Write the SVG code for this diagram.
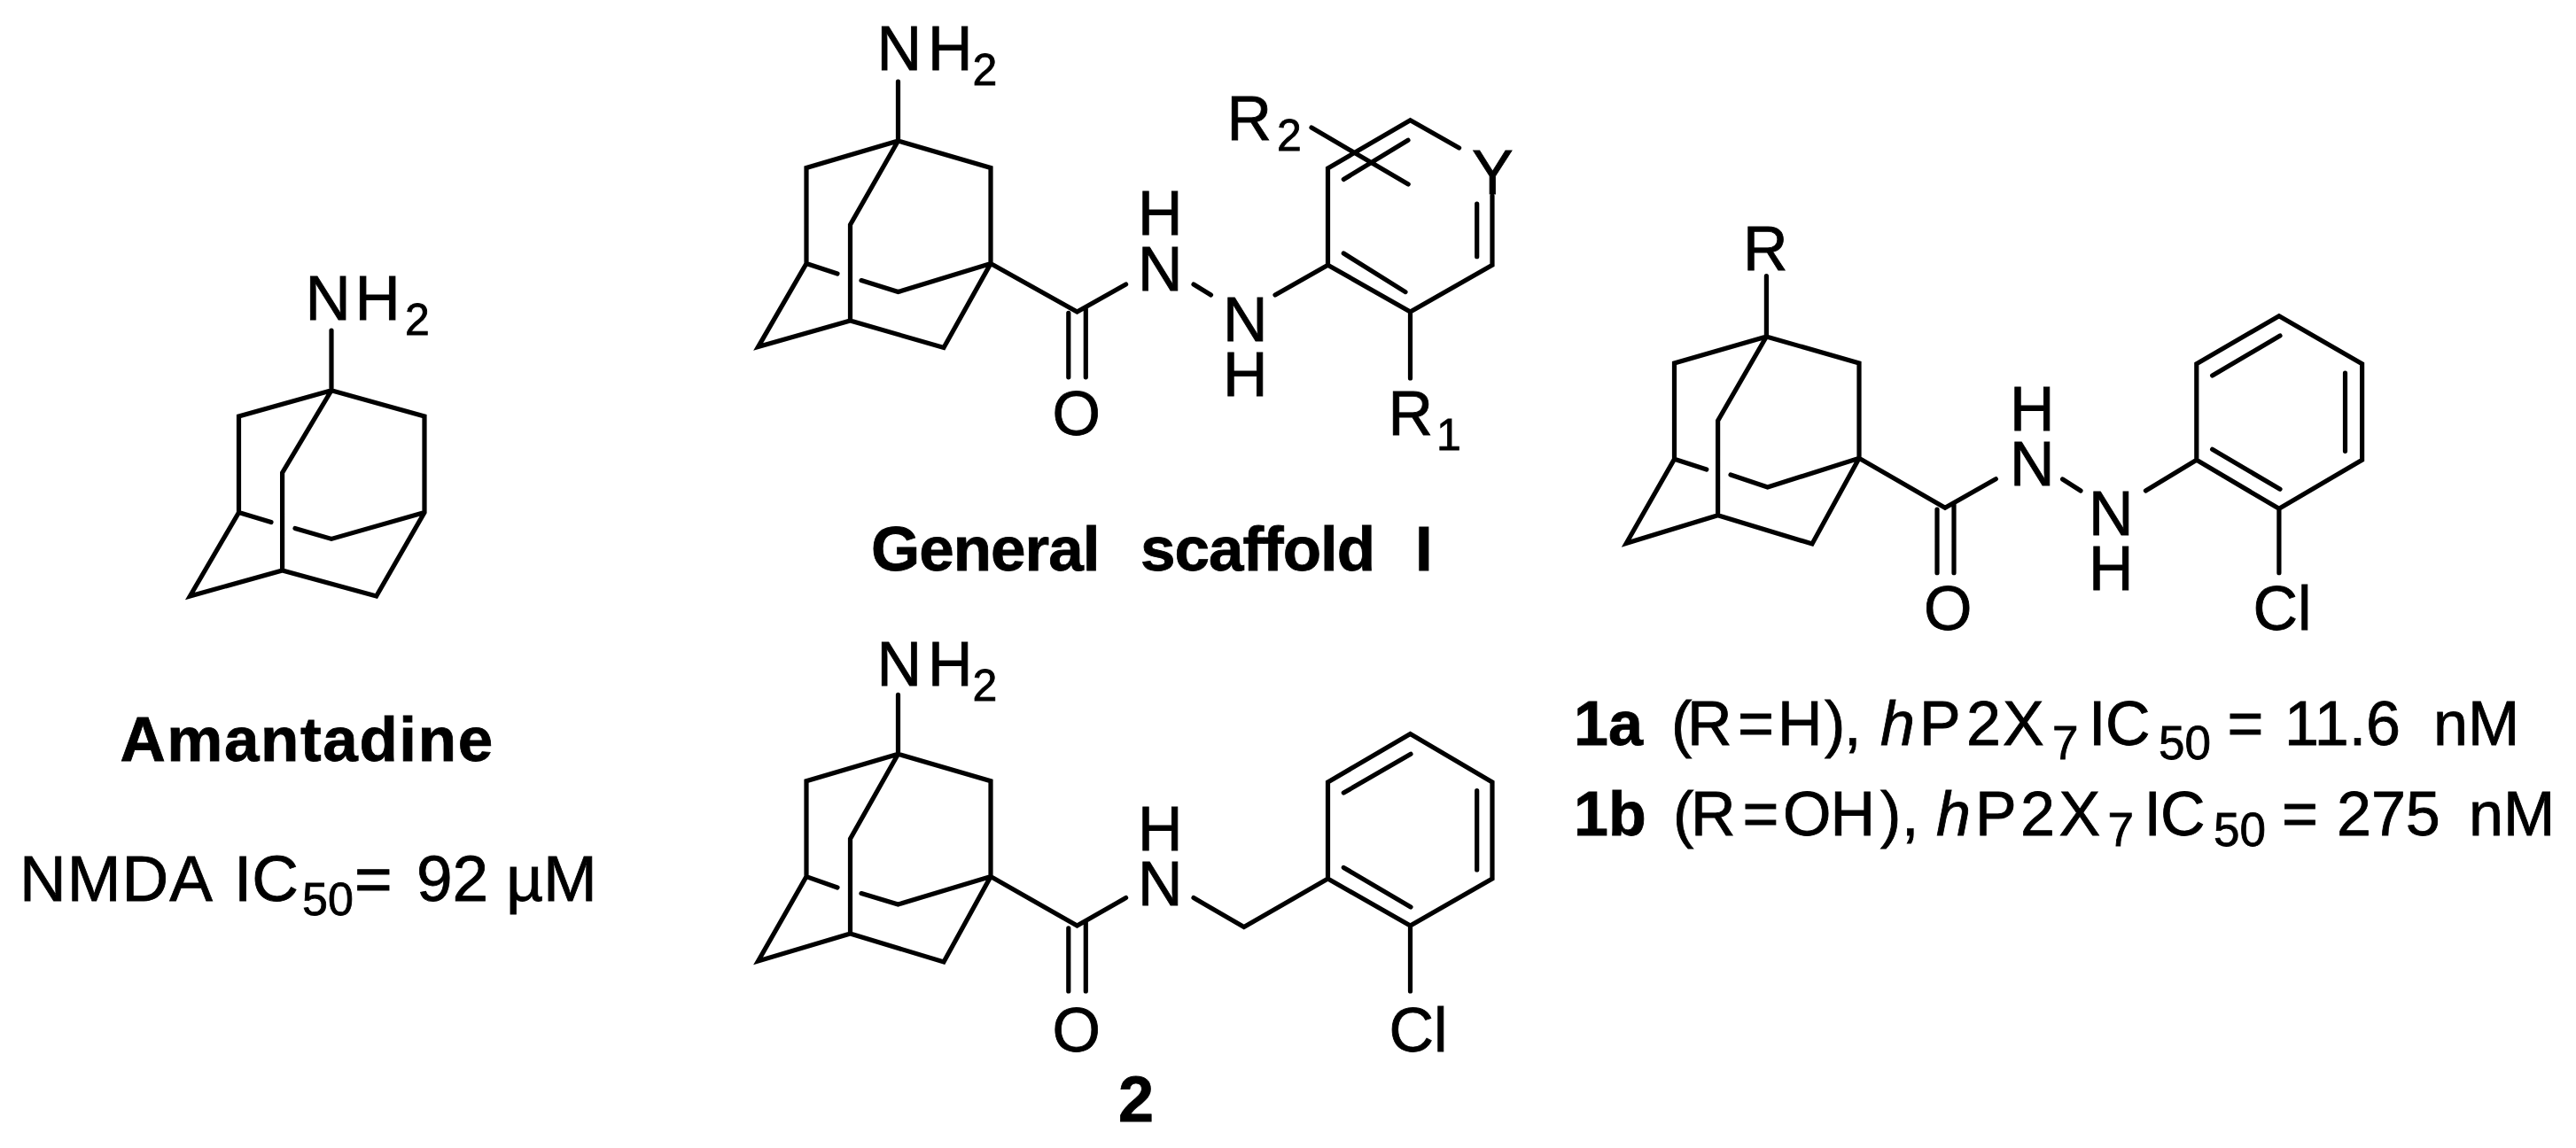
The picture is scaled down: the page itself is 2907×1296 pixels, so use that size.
<svg xmlns="http://www.w3.org/2000/svg" width="2907" height="1296" viewBox="0 0 2907 1296">
<style>
text{font-family:"Liberation Sans",Arial,sans-serif;font-size:70px;fill:#000;stroke:#000;stroke-width:.8px}
.b{font-weight:bold}
.s{font-size:50px}
.a{font-size:53px}
.i{font-style:italic}
#connectors path{fill:none;stroke:#000;stroke-width:5.2;stroke-linejoin:miter;stroke-linecap:round}
</style>
<rect width="2907" height="1296" fill="#fff"/>
<g id="connectors">
<path id="bonds-amantadine" d="M374 373V440.7L269.5 470V578.5L214.4 673L318.6 644L424.7 673L479 578.5V470L374 440.7L318.6 533.7V644M269.5 578.5L306 589.5M333 596.4L374 608.4L479 578.5"/>
<path id="bonds-scaffold" d="M1013.5 92V159L910 189.5V297.5L855.6 391.6L959.5 362L1065 392.5L1118 297.5V189.5L1013.5 159L959.5 253.7V362M910 297.5L945 309M972 316.6L1013.5 329.6L1118 297.5L1215.5 352L1270.6 321M1205.8 353.4V425.8M1225.3 347V425.8M1347 321L1366.5 333M1439 333L1498.5 299.2V190L1591.5 135.7L1646.6 167M1684 221V299.2L1591.5 352L1498.5 299.2M1516.3 286L1586 329.6M1666.7 230V289.7M1516.3 202.5L1589 158.3M1480 144L1589.2 208M1591.5 352V427"/>
<path id="bonds-compound2" d="M1013.5 784.4V851.3L910 881.7V989.6L855.6 1085L959.5 1054L1065 1086L1118 989.6V881.7L1013.5 851.3L959.5 947V1054M910 989.6L945 1002M972 1008.6L1013.5 1021L1118 989.6L1215.5 1045L1270.6 1013.6M1205.8 1047.8V1118.9M1225.3 1041.3V1118.9M1347 1013.6L1403.8 1046.6L1498.5 992V883L1591.5 828.5L1684 883V992L1591.5 1045L1498.5 992M1516.3 895L1592 851.3M1666.7 892.7V982M1516.3 979.4L1592 1024M1591.5 1045V1118.9"/>
<path id="bonds-compound1" d="M1993.4 311.7V380L1889.5 410V518.3L1835.3 613.3L1938.6 581.7L2045 614L2098 517.3V410L1993.4 380L1938.6 475V581.7M1889.5 518.3L1925.8 530M1953 536L1994.7 550L2098 517.3L2195 573.3L2252.3 540.7M2186 575V646.7M2205 568V646.7M2327.6 541L2348 554M2421.4 554L2478.8 519.3V410.7L2571.9 356.7L2665.6 410.7V519.3L2571.9 574.3L2478.8 519.3M2496.6 424L2573 379M2646.5 421V509.3M2496.6 507.3L2573 552.3M2571.9 574.3V646.7"/>
</g>
<g id="amantadine">
<text style="font-size:71px"><tspan x="344.6" y="361">N</tspan><tspan x="400.5" y="361">H</tspan><tspan class="s" x="457" y="378">2</tspan></text>
<text class="b" x="135.4" y="858.6" style="font-size:71px;letter-spacing:1.6px">Amantadine</text>
<text style="font-size:73px"><tspan x="22" y="1017" style="letter-spacing:1px">NMDA</tspan><tspan x="264" y="1017">IC</tspan><tspan class="s" x="341" y="1032.7" style="font-size:52px">50</tspan><tspan x="400" y="1017">=</tspan><tspan x="470" y="1017">92</tspan><tspan x="571" y="1017">µM</tspan></text>
</g>
<g id="general-scaffold">
<text><tspan x="989.5" y="79.4">N</tspan><tspan x="1047" y="79.4">H</tspan><tspan class="s" x="1097.5" y="96.3">2</tspan></text>
<text x="1284" y="264.5">H</text>
<text x="1284" y="328">N</text>
<text x="1380" y="384.6">N</text>
<text x="1380" y="446.7">H</text>
<text x="1187.5" y="491">O</text>
<text><tspan x="1384.5" y="158">R</tspan><tspan class="s" x="1441" y="170">2</tspan></text>
<text x="1661" y="219">Y</text>
<text><tspan x="1566.5" y="491">R</tspan><tspan class="s" x="1621" y="508">1</tspan></text>
<text class="b" style="font-size:71px"><tspan x="983" y="644" style="letter-spacing:-1px">General</tspan><tspan x="1287" y="644" style="letter-spacing:-1px">scaffold</tspan><tspan x="1597" y="644">I</tspan></text>
</g>
<g id="compound-2">
<text><tspan x="989.5" y="774">N</tspan><tspan x="1047" y="774">H</tspan><tspan class="s" x="1097.5" y="790.5">2</tspan></text>
<text x="1284" y="960.4">H</text>
<text x="1284" y="1022.3">N</text>
<text x="1187.5" y="1186.5">O</text>
<text x="1567.5" y="1186.5">Cl</text>
<text class="b" x="1262" y="1265.6" style="font-size:72px">2</text>
</g>
<g id="compound-1">
<text x="1967" y="305">R</text>
<text x="2268" y="486">H</text>
<text x="2268" y="548.3">N</text>
<text x="2357" y="604">N</text>
<text x="2357" y="665.7">H</text>
<text x="2171" y="711">O</text>
<text x="2542.5" y="711">Cl</text>
</g>
<g id="activity-1a">
<text><tspan class="b" x="1776" y="841">1a</tspan><tspan x="1886" y="841">(</tspan><tspan x="1904" y="841">R</tspan><tspan x="1961" y="841">=</tspan><tspan x="2006" y="841">H</tspan><tspan x="2059" y="841">)</tspan><tspan x="2081" y="841">,</tspan><tspan class="i" x="2122" y="841">h</tspan><tspan x="2166" y="841">P</tspan><tspan x="2219" y="841">2</tspan><tspan x="2260" y="841">X</tspan><tspan class="a" x="2316" y="857">7</tspan><tspan x="2357" y="841">I</tspan><tspan x="2376" y="841">C</tspan><tspan class="a" x="2436" y="857">50</tspan><tspan x="2513.5" y="841">=</tspan><tspan x="2578" y="841">11.6</tspan><tspan x="2746" y="841">nM</tspan></text>
</g>
<g id="activity-1b">
<text><tspan class="b" x="1776" y="942.7">1b</tspan><tspan x="1888" y="942.7">(</tspan><tspan x="1908" y="942.7">R</tspan><tspan x="1966.5" y="942.7">=</tspan><tspan x="2012" y="942.7">O</tspan><tspan x="2065.5" y="942.7">H</tspan><tspan x="2122" y="942.7">)</tspan><tspan x="2146" y="942.7">,</tspan><tspan class="i" x="2185" y="942.7">h</tspan><tspan x="2229" y="942.7">P</tspan><tspan x="2280" y="942.7">2</tspan><tspan x="2323.5" y="942.7">X</tspan><tspan class="a" x="2378.5" y="955">7</tspan><tspan x="2419.5" y="942.7">I</tspan><tspan x="2438" y="942.7">C</tspan><tspan class="a" x="2498" y="955">50</tspan><tspan x="2575" y="942.7">=</tspan><tspan x="2637" y="942.7">275</tspan><tspan x="2786" y="942.7">nM</tspan></text>
</g>
</svg>
